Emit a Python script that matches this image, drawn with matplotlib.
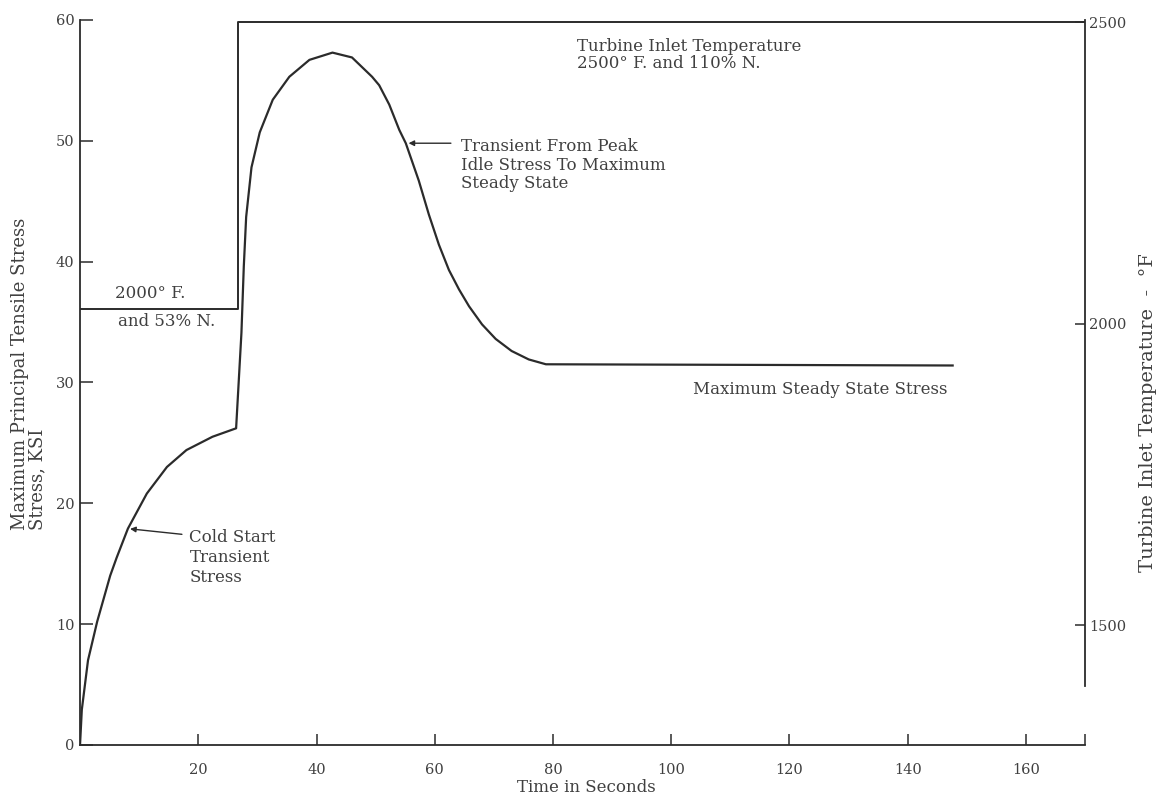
import matplotlib
matplotlib.use('Agg')
import matplotlib.pyplot as plt

plt.rcParams['font.family'] = ['DejaVu Serif']

# stress curve (time s, stress ksi)
time_s = [0, 0.3, 1.35, 2.9, 5.1, 6.2, 8.1, 11.3, 14.7, 18.0, 22.4, 26.4,
          27.3, 27.7, 28.1, 29.0, 30.4, 32.6, 35.4, 38.8, 42.7, 46.0,
          49.4, 50.6, 52.3, 54.0, 55.1, 57.3, 59.0, 60.7, 62.4, 64.1, 65.8,
          68.0, 70.3, 73.0, 75.9, 78.8, 147.6]
stress = [0, 2.9, 7.0, 10.2, 14.0, 15.5, 17.9, 20.8, 23.0, 24.4, 25.5, 26.2,
          34.1, 39.6, 43.7, 47.8, 50.7, 53.4, 55.3, 56.7, 57.3, 56.9,
          55.3, 54.6, 53.0, 50.9, 49.8, 46.7, 43.9, 41.4, 39.3, 37.7, 36.3,
          34.8, 33.6, 32.6, 31.9, 31.5, 31.4]

# turbine inlet temperature step (time s, deg F)
time_t = [0, 26.8, 26.8, 170]
temp_f = [2025, 2025, 2500, 2500]

x_ticks = [20, 40, 60, 80, 100, 120, 140, 160]
y_ticks = [0, 10, 20, 30, 40, 50, 60]
t_ticks = [1500, 2000, 2500]

ink = '#2b2b2b'
txt = '#404040'
fs = 12

fig = plt.figure(figsize=(11.65, 8), dpi=100)
ax = fig.add_axes([0.0687, 0.069, 0.8627, 0.906])
ax2 = ax.twinx()

ax.plot(time_s, stress, color=ink, lw=1.6, solid_joinstyle='round')
ax2.plot(time_t, temp_f, color=ink, lw=1.4)

ax.set_xlim(0, 170)
ax.set_ylim(0, 60)
ax2.set_ylim(1302, 2504)

ax.set_xticks(x_ticks)
ax.set_xticks([170], minor=True)
ax.set_yticks(y_ticks)
ax2.set_yticks(t_ticks)

for s in ['top', 'right']:
    ax.spines[s].set_visible(False)
for s in ['top', 'left', 'bottom']:
    ax2.spines[s].set_visible(False)
ax.spines['left'].set_bounds(0, 60)
ax2.spines['right'].set_bounds(1400, 2504)
for sp in [ax.spines['left'], ax.spines['bottom'], ax2.spines['right']]:
    sp.set_color(ink)
    sp.set_linewidth(1.3)

ax.tick_params(axis='x', direction='in', length=8, width=1.1, color=ink,
               labelsize=10.5, labelcolor=txt, pad=13)
ax.tick_params(axis='x', which='minor', direction='in', length=8, width=1.1, color=ink)
ax.tick_params(axis='y', direction='in', length=9, width=1.1, color=ink,
               labelsize=10.5, labelcolor=txt, pad=4)
ax2.tick_params(axis='y', direction='in', length=7, width=1.1, color=ink,
                labelsize=10.5, labelcolor=txt, pad=3)

# annotations
arrow = dict(arrowstyle='-|>', color=ink, lw=1.0, mutation_scale=8)
ax.annotate('', xy=(8.0, 17.9), xytext=(17.7, 17.4), arrowprops=arrow)
ax.text(18.5, 17.9, 'Cold Start\nTransient\nStress', fontsize=fs, color=txt,
        va='top', ha='left', linespacing=1.25)

ax.annotate('', xy=(55.1, 49.8), xytext=(63.2, 49.8), arrowprops=arrow)
ax.text(64.4, 50.2, 'Transient From Peak\nIdle Stress To Maximum\nSteady State',
        fontsize=fs, color=txt, va='top', ha='left', linespacing=1.1)

ax.text(84, 58.5, 'Turbine Inlet Temperature\n2500\u00b0 F. and 110% N.',
        fontsize=fs, color=txt, va='top', ha='left', linespacing=1.0)

ax.text(5.9, 37.4, '2000\u00b0 F.', fontsize=fs, color=txt, va='center', ha='left')
ax.text(6.4, 35.0, 'and 53% N.', fontsize=fs, color=txt, va='center', ha='left')

ax.text(146.7, 29.4, 'Maximum Steady State Stress', fontsize=fs, color=txt,
        va='center', ha='right')

fig.text(20 / 1165, 1 - 530 / 800, 'Maximum Principal Tensile Stress',
         rotation=90, ha='center', va='bottom', fontsize=13, color=txt)
fig.text(37 / 1165, 1 - 530 / 800, 'Stress, KSI',
         rotation=90, ha='center', va='bottom', fontsize=13, color=txt)
fig.text(1148 / 1165, 1 - 413 / 800, 'Turbine Inlet Temperature  -  \u00b0F',
         rotation=90, ha='center', va='center', fontsize=14, color=txt)
fig.text(586 / 1165, 1 - 787 / 800, 'Time in Seconds',
         ha='center', va='center', fontsize=fs, color=txt)

fig.savefig('out.png', dpi=100)
